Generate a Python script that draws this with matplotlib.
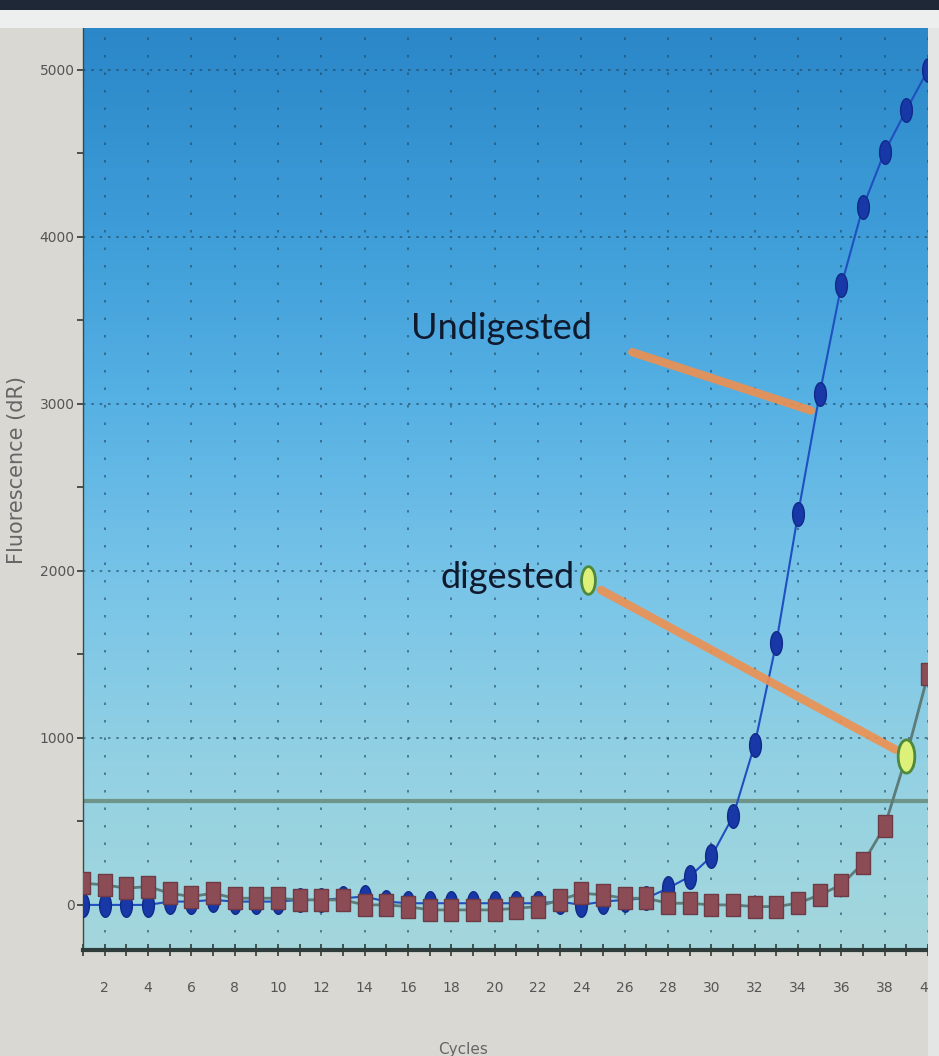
import numpy as np
import matplotlib
matplotlib.use("Agg")
import matplotlib.pyplot as plt
from matplotlib.colors import LinearSegmentedColormap
from matplotlib.patches import Rectangle
from matplotlib.ticker import MultipleLocator

cycles = list(range(1, 41))
undigested = [0, 0, 0, 0, 20, 20, 30, 20, 20, 20, 30, 30, 40, 50, 20, 10, 10, 10, 10, 10,
              10, 10, 20, 0, 20, 30, 40, 100, 170, 290, 530, 960, 1570, 2340, 3060, 3710,
              4180, 4510, 4760, 5000]
digested = [130, 120, 100, 110, 70, 50, 70, 40, 40, 40, 30, 30, 30, 0, 0, -10, -30, -30, -30, -30,
            -20, -10, 30, 70, 60, 40, 40, 10, 10, 0, 0, -10, -10, 10, 60, 120, 250, 470, 890, 1380]
threshold = 620
x_tick_labels = [str(v) for v in range(2, 41, 2)]
y_tick_values = [0, 1000, 2000, 3000, 4000, 5000]

# annotation anchor points (data coordinates)
undig_label_pos = (20.3, 3450)
undig_arrow = ((26.35, 3310), (34.6, 2960))
dig_label_pos = (20.6, 1960)
dig_marker = (24.3, 1946)
dig_arrow = ((24.9, 1886), (38.5, 930))
dig_highlight = (39, 890)

fig = plt.figure(figsize=(9.39, 10.56), dpi=100)
fig.patch.set_facecolor("#DAD8D2")
# photo framing strips
fig.patches.append(Rectangle((0, 1 - 10/1056), 1, 10/1056, transform=fig.transFigure,
                             facecolor="#1E2836", edgecolor="none", zorder=0))
fig.patches.append(Rectangle((0, 1 - 28/1056), 1, 18/1056, transform=fig.transFigure,
                             facecolor="#EDEFEE", edgecolor="none", zorder=0))
fig.patches.append(Rectangle((928/939, 0), 11/939, 1 - 28/1056, transform=fig.transFigure,
                             facecolor="#E4E6E6", edgecolor="none", zorder=0))

ax = fig.add_axes([83/939, 1 - 950/1056, (928 - 83)/939, (950 - 27)/1056])

cmap = LinearSegmentedColormap.from_list(
    "bg", ["#A4D7DC", "#93D1E3", "#78C4E8", "#55B0E3", "#3C9BD7", "#2B87C8"])
grad = np.linspace(0, 1, 256).reshape(-1, 1)
ax.imshow(grad, extent=(0, 1, 0, 1), transform=ax.transAxes, origin="lower",
          aspect="auto", cmap=cmap, zorder=0)

ax.set_xlim(1, 40)
ax.set_ylim(-270, 5257)

# grid
for xv in range(2, 41, 2):
    ax.axvline(xv, color="#1F4560", lw=1.2, ls=(0, (1.5, 9)), alpha=0.7, zorder=1)
for yv in y_tick_values[1:]:
    ax.axhline(yv, color="#1F4560", lw=1.2, ls=(0, (1.5, 3.5)), alpha=0.7, zorder=1)

# threshold
ax.axhline(threshold, color="#6F948A", lw=3, zorder=2)

ellipse = [(0.5 * np.cos(t), np.sin(t)) for t in np.linspace(0, 2 * np.pi, 30)]
tall_sq = [(-0.6, -1), (0.6, -1), (0.6, 1), (-0.6, 1), (-0.6, -1)]

ax.plot(cycles, undigested, color="#1F4FC0", lw=1.5, zorder=3,
        marker=ellipse, markersize=17, markerfacecolor="#1838A8", markeredgecolor="#102A88")
ax.plot(cycles, digested, color="#5D7B78", lw=2.0, zorder=4,
        marker=tall_sq, markersize=16, markerfacecolor="#8C4C56", markeredgecolor="#6E3A44")

# annotations
ax.plot(*zip(*undig_arrow), color="#EE9050", lw=6, solid_capstyle="round", alpha=0.9, zorder=6)
ax.plot(*zip(*dig_arrow), color="#EE9050", lw=6, solid_capstyle="round", alpha=0.9, zorder=6)
ax.plot(*dig_marker, marker=ellipse, markersize=20, markerfacecolor="#DDF07A",
        markeredgecolor="#4E8A3A", markeredgewidth=2, zorder=7)
ax.plot(*dig_highlight, marker=ellipse, markersize=24, markerfacecolor="#DDF07A",
        markeredgecolor="#4E8A3A", markeredgewidth=2, zorder=7)
ax.text(*undig_label_pos, "Undigested", fontsize=26, family="Lato", color="#101A2E",
        ha="center", va="center", zorder=8)
ax.text(*dig_label_pos, "digested", fontsize=26, family="Lato", color="#101A2E",
        ha="center", va="center", zorder=8)

# axes styling
ax.set_xticks(range(2, 41, 2))
ax.set_xticklabels(x_tick_labels)
ax.xaxis.set_minor_locator(MultipleLocator(1))
ax.set_yticks(y_tick_values)
ax.set_yticklabels([str(v) for v in y_tick_values])
ax.yaxis.set_minor_locator(MultipleLocator(500))
ax.tick_params(axis="x", which="both", direction="inout", length=8, width=1.2,
               color="#2F3A3A", labelsize=10, labelcolor="#555555", pad=18)
ax.tick_params(axis="y", which="both", direction="out", length=4, width=1.2,
               color="#2F3A3A", labelsize=10, labelcolor="#555555", pad=2)
for s in ["top", "right"]:
    ax.spines[s].set_visible(False)
ax.spines["bottom"].set_linewidth(3)
ax.spines["bottom"].set_color("#2E3C3C")
ax.spines["left"].set_linewidth(1)
ax.spines["left"].set_color("#3A4A4A")

ax.set_ylabel("Fluorescence (dR)", fontsize=15, color="#666666")
ax.yaxis.set_label_coords(-0.066, 0.52)
ax.set_xlabel("Cycles", fontsize=11, color="#666666")
ax.xaxis.set_label_coords(0.45, -0.1)

fig.savefig("out.png", dpi=100)
